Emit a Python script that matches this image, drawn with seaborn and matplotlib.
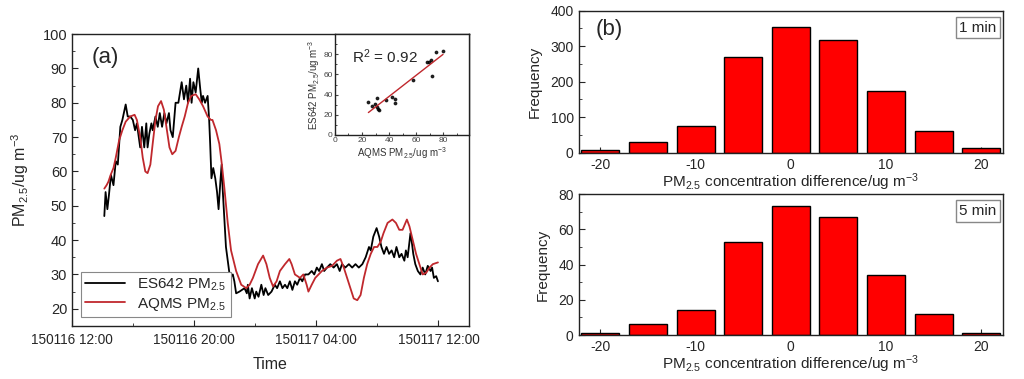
import numpy as np
import pandas as pd
import seaborn as sns
import matplotlib.pyplot as plt
import matplotlib.dates as mdates
from matplotlib.ticker import MultipleLocator

# ---- data ----
# (a) time series, minutes after 150116 12:00
es642_min = [127, 132, 139, 145, 153, 163, 172, 180, 190, 198, 211, 219, 229, 239, 248, 255, 268, 275,
             284, 292, 297, 304, 312, 317, 328, 337, 345, 354, 363, 371, 381, 387, 396, 407, 418, 431,
             440, 449, 456, 464, 470, 477, 486, 496, 504, 510, 515, 523, 533, 539, 543, 548, 555, 563,
             570, 576, 583, 588, 592, 599, 605, 612, 621, 632, 638, 645, 658, 678, 687, 691, 698, 707,
             718, 724, 733, 744, 753, 760, 771, 784, 797, 806, 817, 827, 837, 846, 856, 866, 876, 885,
             896, 905, 916, 929, 942, 952, 962, 971, 982, 991, 1002, 1015, 1028, 1041, 1052, 1061, 1074,
             1088, 1101, 1114, 1127, 1141, 1154, 1167, 1174, 1184, 1197, 1207, 1216, 1226, 1236, 1246,
             1256, 1266, 1275, 1286, 1295, 1306, 1312, 1319, 1330, 1336, 1341, 1349, 1359, 1369, 1378,
             1388, 1398, 1409, 1415, 1422, 1431, 1438]
es642_pm = [47, 54, 49, 53, 59, 56, 63, 62, 73, 75, 79.5, 76, 76, 75, 72, 74, 67, 73,
            67, 74, 67, 71, 74, 72, 76, 73, 77, 73, 77, 74, 77, 72, 70, 80, 80, 86,
            81, 85, 80, 87, 80, 86, 83, 90, 84, 80, 82, 80, 82, 75, 68, 58, 61, 58,
            54, 49, 57, 62, 55, 46, 38, 34, 29, 30, 28, 24.5, 25, 26, 24.5, 27, 23, 26,
            23, 25, 23.5, 27, 24, 26, 24, 25, 27, 26, 28, 26, 27, 26, 28, 25.5, 28, 27,
            29, 28, 30, 30, 31, 30, 32, 31, 33, 31, 32, 33, 32, 33, 31, 33, 32,
            33, 32, 33, 32, 33, 35, 38, 37, 41, 43.5, 41, 38, 36, 38, 36,
            37, 35, 38, 35, 36, 34, 37, 35, 42, 39, 36, 33, 31, 30, 32,
            30, 32.5, 31, 32, 29, 29.5, 28]
aqms_min = [127, 136, 143, 152, 163, 172, 185, 198, 211, 229, 246, 255, 268, 278, 288, 297, 308, 317,
            328, 338, 350, 361, 371, 383, 394, 407, 420, 431, 443, 456, 469, 486, 500, 515, 533, 546,
            552, 566, 579, 589, 599, 612, 625, 645, 665, 685, 698, 711, 731, 751, 764, 777, 790, 804,
            817, 837, 854, 863, 876, 896, 909, 922, 929, 942, 956, 969, 982, 1002, 1022, 1041, 1055,
            1068, 1081, 1094, 1107, 1121, 1134, 1147, 1160, 1174, 1187, 1200, 1213, 1224, 1240, 1259,
            1273, 1286, 1299, 1316, 1326, 1339, 1352, 1365, 1378, 1392, 1405, 1418, 1438]
aqms_pm = [55, 56, 57, 59, 61, 64, 69, 72, 74.5, 76, 76.5, 75, 70, 64, 60, 59.5, 62, 68,
           75, 79, 80.5, 78, 73, 67, 65, 66, 70, 73, 76, 80, 82, 82.5, 81, 79, 76, 75,
           75, 72, 68, 62, 55, 45, 37, 31, 27, 26, 27, 29, 33, 35.5, 33, 29, 26.5, 28,
           31, 33, 34.5, 33, 30, 29, 30, 27, 25, 27, 29, 30, 31, 32, 32.5, 34, 34.5,
           32, 29, 26, 23, 22.5, 24, 29, 33, 36, 38, 38, 39.5, 42, 45, 46,
           45, 43, 43, 46, 44, 40, 36, 33, 30, 30.5, 32, 33, 33.5]

# inset scatter: AQMS vs ES642
inset_aqms = [24.7, 27.2, 29.6, 31.4, 32.1, 32.8, 31.0, 37.5, 42.0, 44.4, 44.4, 58.0, 67.9, 69.1, 71.1, 71.6, 74.6, 79.8]
inset_es642 = [32.4, 28.7, 31.0, 36.6, 26.0, 24.8, 28.0, 34.3, 37.6, 35.3, 32.0, 54.5, 72.6, 72.0, 74.3, 58.4, 82.2, 83.5]

# (b) histograms of concentration difference
diff_bins = [-20, -15, -10, -5, 0, 5, 10, 15, 20]
freq_1min = [8, 30, 76, 270, 353, 316, 173, 62, 14]
freq_5min = [1, 6, 14, 53, 73, 67, 34, 12, 1]

# ---- style ----
sns.set_style("ticks")
plt.rcParams['font.family'] = ['Liberation Sans', 'DejaVu Sans']
plt.rcParams['mathtext.default'] = 'regular'
plt.rcParams['axes.unicode_minus'] = False
plt.rcParams['xtick.direction'] = 'in'
plt.rcParams['ytick.direction'] = 'in'
plt.rcParams['axes.edgecolor'] = '#222222'
plt.rcParams['axes.linewidth'] = 1.0

t0 = pd.Timestamp("2015-01-16 12:00")
df_es = pd.DataFrame({"time": t0 + pd.to_timedelta(es642_min, unit="min"), "pm": es642_pm})
df_aq = pd.DataFrame({"time": t0 + pd.to_timedelta(aqms_min, unit="min"), "pm": aqms_pm})

fig = plt.figure(figsize=(10.24, 3.79), dpi=100)

# ---- panel (a) ----
ax = fig.add_axes([0.0703, 0.14, 0.3877, 0.77])
sns.lineplot(data=df_es, x="time", y="pm", ax=ax, color="black", lw=1.3, label="ES642 PM$_{2.5}$")
sns.lineplot(data=df_aq, x="time", y="pm", ax=ax, color="#c0282d", lw=1.3, label="AQMS PM$_{2.5}$")
ax.set_xlim(t0, t0 + pd.Timedelta(hours=26))
ax.set_ylim(15, 100)
ax.yaxis.set_major_locator(MultipleLocator(10))
ax.yaxis.set_minor_locator(MultipleLocator(5))
ax.xaxis.set_major_locator(mdates.HourLocator(byhour=[4, 12, 20]))
ax.xaxis.set_minor_locator(mdates.HourLocator(byhour=[0, 8, 16]))
ax.xaxis.set_major_formatter(mdates.DateFormatter("%y%m%d %H:%M"))
ax.tick_params(axis="y", labelsize=10.5, length=4)
ax.tick_params(axis="x", labelsize=9.8, length=4, pad=5)
ax.tick_params(which="minor", length=2.5)
ax.set_xlabel("Time", fontsize=11.5, labelpad=7)
ax.set_ylabel("PM$_{2.5}$/ug m$^{-3}$", fontsize=11.5, labelpad=8)
ax.text(0.05, 0.92, "(a)", transform=ax.transAxes, fontsize=16, va="center", ha="left")
leg = ax.legend(loc="lower left", bbox_to_anchor=(0.022, 0.03), borderaxespad=0, fontsize=11,
                fancybox=False, edgecolor="#888888", framealpha=1, handlelength=2.6,
                borderpad=0.3, labelspacing=0.2)
leg.get_frame().set_linewidth(0.8)

# inset scatter
axin = fig.add_axes([0.3271, 0.644, 0.1309, 0.266])
df_in = pd.DataFrame({"aqms": inset_aqms, "es642": inset_es642})
sns.regplot(data=df_in, x="aqms", y="es642", ax=axin, ci=None,
            scatter_kws={"s": 3, "color": "black"}, line_kws={"color": "#c0282d", "lw": 1})
axin.set_xlim(0, 99)
axin.set_ylim(0, 100)
axin.xaxis.set_minor_locator(MultipleLocator(10))
axin.yaxis.set_minor_locator(MultipleLocator(10))
axin.set_xticks([0, 20, 40, 60, 80])
axin.set_yticks([0, 20, 40, 60, 80])
axin.tick_params(labelsize=6, length=2.5, pad=1.5, colors="#444444")
axin.tick_params(which="minor", length=1.5)
axin.set_xlabel("AQMS PM$_{2.5}$/ug m$^{-3}$", fontsize=7, labelpad=1, color="#333333")
axin.set_ylabel("ES642 PM$_{2.5}$/ug m$^{-3}$", fontsize=7, labelpad=1, color="#333333")
axin.text(0.13, 0.78, "R$^2$ = 0.92", transform=axin.transAxes, fontsize=11, va="center")

# ---- panel (b) ----
def hist_panel(rect, freqs, ymax, ystep, tag, show_b):
    axh = fig.add_axes(rect)
    df = pd.DataFrame({"diff": diff_bins, "freq": freqs})
    sns.barplot(data=df, x="diff", y="freq", ax=axh, native_scale=True, width=0.8,
                color="#ff0000", saturation=1, edgecolor="black", linewidth=1)
    axh.set_xlim(-22.3, 22.3)
    axh.set_ylim(0, ymax)
    axh.xaxis.set_major_locator(MultipleLocator(10))
    axh.yaxis.set_major_locator(MultipleLocator(ystep))
    axh.yaxis.set_minor_locator(MultipleLocator(ystep / 2))
    axh.tick_params(labelsize=10, length=4)
    axh.tick_params(which="minor", length=2.5)
    axh.set_xlabel("PM$_{2.5}$ concentration difference/ug m$^{-3}$", fontsize=11, labelpad=0)
    axh.set_ylabel("Frequency", fontsize=11, labelpad=6)
    axh.text(0.985, 0.93, tag, transform=axh.transAxes, ha="right", va="top", fontsize=11,
             bbox=dict(facecolor="white", edgecolor="#888888", boxstyle="square,pad=0.25"))
    if show_b:
        axh.text(0.04, 0.87, "(b)", transform=axh.transAxes, fontsize=16, va="center", ha="left")
    return axh

hist_panel([0.565, 0.597, 0.4145, 0.375], freq_1min, 400, 100, "1 min", True)
hist_panel([0.565, 0.116, 0.4145, 0.372], freq_5min, 80, 20, "5 min", False)

fig.savefig("out.png", dpi=100)
